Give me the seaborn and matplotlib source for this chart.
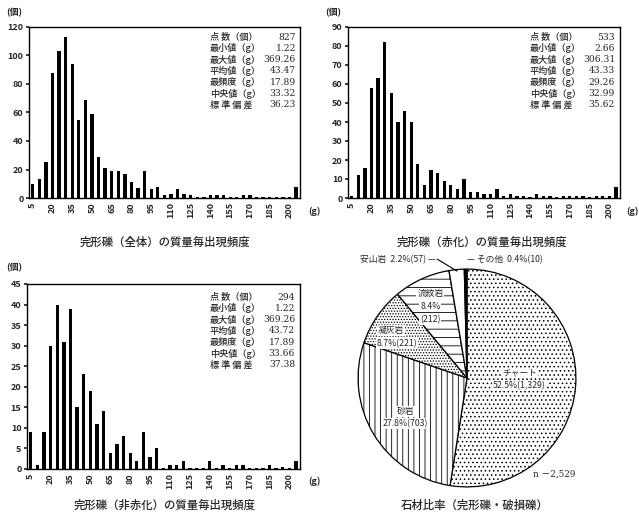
import numpy as np
import pandas as pd
import matplotlib
matplotlib.use("Agg")
import matplotlib.pyplot as plt
import seaborn as sns

sns.set_theme(style="white")
plt.rcParams['font.family'] = ['Noto Sans CJK JP', 'DejaVu Sans']
plt.rcParams['hatch.linewidth'] = 0.6

# ---------------- data ----------------
bins = list(range(5, 210, 5))  # 5 .. 205 (last = over 200)
tick_labels = [str(v) for v in range(5, 205, 15)]

counts_all = [10, 13, 25, 88, 103, 113, 94, 55, 69, 59, 29, 21, 19, 19, 17, 11, 7, 19, 6, 8,
              2, 3, 6, 3, 2, 1, 1, 2, 2, 2, 1, 1, 2, 2, 1, 1, 1, 1, 1, 1, 8]
counts_red = [1, 12, 16, 58, 63, 82, 55, 40, 46, 40, 18, 7, 15, 13, 9, 7, 5, 10, 3, 3,
              2, 2, 5, 1, 2, 1, 1, 0.5, 2, 1, 1, 0.5, 1, 1, 1, 1, 0.5, 1, 1, 1, 6]
counts_nonred = [9, 1, 9, 30, 40, 31, 39, 15, 23, 19, 11, 14, 4, 6, 8, 4, 2, 9, 3, 5,
                 0.3, 1, 1, 2, 0.3, 0.2, 0.2, 2, 0.2, 1, 0.2, 1, 1, 0.3, 0.2, 0.2, 1, 0.3, 0.5, 0.2, 2]

stat_labels = ["点 数（個）", "最小値（g）", "最大値（g）", "平均値（g）", "最頻度（g）", "中央値（g）", "標 準 偏 差"]
stats_all = ["827", "1.22", "369.26", "43.47", "17.89", "33.32", "36.23"]
stats_red = ["533", "2.66", "306.31", "43.33", "29.26", "32.99", "35.62"]
stats_nonred = ["294", "1.22", "369.26", "43.72", "17.89", "33.66", "37.38"]

titles = ["完形礫（全体）の質量毎出現頻度", "完形礫（赤化）の質量毎出現頻度", "完形礫（非赤化）の質量毎出現頻度"]

pie_labels = ["チャート", "砂岩", "凝灰岩", "流紋岩", "安山岩", "その他"]
pie_counts = [1329, 703, 221, 212, 57, 10]
pie_pcts = ["52.5%", "27.8%", "8.7%", "8.4%", "2.2%", "0.4%"]
pie_title = "石材比率（完形礫・破損礫）"
pie_n = "n －2,529"

# ---------------- layout ----------------
W, H = 639, 515
fig = plt.figure(figsize=(W / 100, H / 100), dpi=100)
fig.patch.set_facecolor("white")
SERIF = ["DejaVu Serif", "Noto Sans CJK JP"]


def axes_px(l, t, r, b):
    return fig.add_axes([l / W, 1 - b / H, (r - l) / W, (b - t) / H])


def ftext(x, y, s, **kw):
    fig.text(x / W, 1 - y / H, s, **kw)


def histo(ax, counts, ymax, ystep, stats, lab_x, val_x, top_y):
    df = pd.DataFrame({"bin": bins, "count": counts})
    sns.barplot(data=df, x="bin", y="count", native_scale=True, color="black",
                width=0.5, ax=ax, saturation=1, edgecolor="black", linewidth=0)
    ax.set_xlim(2.2, 208)
    ax.set_ylim(0, ymax)
    ax.set_yticks(np.arange(0, ymax + 1, ystep))
    ax.set_xticks(list(range(5, 205, 15)))
    ax.set_xticklabels(tick_labels, rotation=90, fontsize=6.5, fontweight="bold")
    ax.tick_params(axis="y", labelsize=6.5, length=2, pad=2, left=True)
    ax.tick_params(axis="x", length=0, pad=3)
    for lbl in ax.get_yticklabels():
        lbl.set_fontweight("bold")
    ax.set_xlabel("")
    ax.set_ylabel("")
    for s in ax.spines.values():
        s.set_color("black")
        s.set_linewidth(1.0)
    for i, (l, v) in enumerate(zip(stat_labels, stats)):
        y = top_y + i * 11.3
        ftext(lab_x, y, l, fontsize=6.6, va="center", ha="left", fontweight="medium")
        ftext(val_x, y, v, fontsize=6.6, va="center", ha="right", family=SERIF)


ax1 = axes_px(29, 27, 300, 198)
histo(ax1, counts_all, 120, 20, stats_all, 210, 296, 37)
ax2 = axes_px(348, 27, 620, 198)
histo(ax2, counts_red, 90, 10, stats_red, 530, 615, 37)
ax3 = axes_px(27, 284, 300, 469)
histo(ax3, counts_nonred, 45, 5, stats_nonred, 210, 295, 297)

for (x, y) in [(14, 13), (333, 13), (14, 268)]:
    ftext(x, y, "(個)", fontsize=6.5, fontweight="bold", ha="center", va="center")
for (x, y) in [(314, 211), (632, 211), (314, 481)]:
    ftext(x, y, "(g)", fontsize=6.5, fontweight="bold", ha="center", va="center")

ftext(165, 242, titles[0], fontsize=8.2, ha="center", va="center", fontweight="medium")
ftext(482, 242, titles[1], fontsize=8.2, ha="center", va="center", fontweight="medium")
ftext(165, 505, titles[2], fontsize=8.2, ha="center", va="center", fontweight="medium")

# ---------------- pie ----------------
cx, cy, R = 467, 378, 110
axp = axes_px(cx - R, cy - R, cx + R, cy + R)
hatches = ["....", "|||", "......", "--", "", ""]
faces = ["white", "white", "white", "white", "white", "black"]
wedges, _ = axp.pie(pie_counts, startangle=90, counterclock=False, radius=1.0,
                    colors=faces,
                    wedgeprops=dict(edgecolor="black", linewidth=0.9))
for w, h in zip(wedges, hatches):
    w.set_hatch(h)
axp.set_xlim(-1.01, 1.01)
axp.set_ylim(-1.01, 1.01)
axp.set_aspect("equal")
axp.axis("off")


def pc(x, y):
    return ((x - cx) / R, (cy - y) / R)


bb = dict(facecolor="white", edgecolor="none", pad=0.6)
tk = dict(fontsize=6.3, ha="center", va="center", clip_on=False, bbox=bb)
axp.text(*pc(520, 373), pie_labels[0], **tk)
axp.text(*pc(520, 386), f"{pie_pcts[0]}(1,329)", **tk)
axp.text(*pc(405, 412), pie_labels[1], **tk)
axp.text(*pc(405, 424), f"{pie_pcts[1]}({pie_counts[1]})", **tk)
axp.text(*pc(390, 330), pie_labels[2], **tk)
axp.text(*pc(396, 343), f"{pie_pcts[2]}({pie_counts[2]})", **tk)
axp.text(*pc(430, 293), pie_labels[3], **tk)
axp.text(*pc(430, 306), pie_pcts[3], **tk)
axp.text(*pc(430, 319), f"({pie_counts[3]})", **tk)

axp.text(*pc(436, 258), f"{pie_labels[4]}  {pie_pcts[4]}({pie_counts[4]}) —", fontsize=6.3,
         ha="right", va="center", clip_on=False)
axp.plot(*zip(pc(437, 258), pc(457, 270)), color="black", lw=0.8, clip_on=False)
axp.text(*pc(467, 258), f"— {pie_labels[5]}  {pie_pcts[5]}({pie_counts[5]})", fontsize=6.3,
         ha="left", va="center", clip_on=False)
axp.text(*pc(555, 475), pie_n, fontsize=6.3, ha="center", va="center", clip_on=False,
         family=SERIF)

ftext(475, 505, pie_title, fontsize=8.2, ha="center", va="center", fontweight="medium")

fig.savefig("out.png", dpi=100, facecolor="white")
